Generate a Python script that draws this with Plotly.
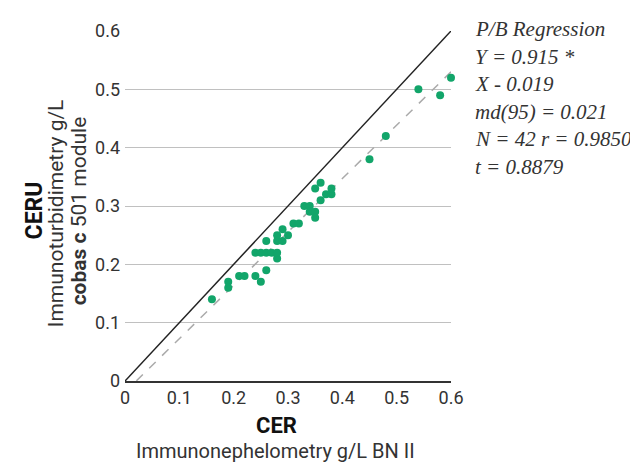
import plotly.graph_objects as go

cer = [0.16, 0.19, 0.19, 0.21, 0.22, 0.24, 0.25, 0.26, 0.28,
       0.24, 0.25, 0.26, 0.27, 0.28, 0.26, 0.28, 0.29, 0.28, 0.30,
       0.29, 0.31, 0.32, 0.33, 0.34, 0.34, 0.35, 0.35, 0.36, 0.37,
       0.38, 0.35, 0.38, 0.36, 0.45, 0.48, 0.54, 0.58, 0.60]
ceru = [0.14, 0.17, 0.16, 0.18, 0.18, 0.18, 0.17, 0.19, 0.21,
        0.22, 0.22, 0.22, 0.22, 0.22, 0.24, 0.24, 0.24, 0.25, 0.25,
        0.26, 0.27, 0.27, 0.30, 0.30, 0.29, 0.29, 0.28, 0.31, 0.32,
        0.32, 0.33, 0.33, 0.34, 0.38, 0.42, 0.50, 0.49, 0.52]

slope = 0.915
intercept = -0.019
reg_x = [0.021, 0.6]
identity = [0, 0.6]
ticks = [0, 0.1, 0.2, 0.3, 0.4, 0.5, 0.6]
tick_text = ["0", "0.1", "0.2", "0.3", "0.4", "0.5", "0.6"]
stats_lines = ["P/B Regression", "Y = 0.915 *", "X - 0.019", "md(95) = 0.021",
               "N = 42 r = 0.9850", "t = 0.8879"]

# page body has an 8px offset; plot area target: x 125..451, y 22..381 (page px)
L, T, W, H = 125, 22, 326, 359

def px(xp):
    return (xp - L) / W

def py(yp):
    return (T + H - yp) / H

fig = go.Figure()
fig.add_trace(go.Scatter(x=identity, y=identity, mode="lines",
                         line=dict(color="#222222", width=1.5), hoverinfo="skip"))
fig.add_trace(go.Scatter(x=reg_x, y=[slope * v + intercept for v in reg_x], mode="lines",
                         line=dict(color="#aaaaaa", width=1.5, dash="dash"), hoverinfo="skip"))
fig.add_trace(go.Scatter(x=cer, y=ceru, mode="markers", cliponaxis=False,
                         marker=dict(color="#12a56a", size=8)))

fig.update_layout(
    width=638, height=469,
    margin=dict(l=L - 8, r=638 - (L - 8) - W, t=T - 8, b=469 - (T - 8) - H),
    paper_bgcolor="white", plot_bgcolor="white",
    showlegend=False,
    font=dict(family="Roboto", size=18, color="#333333"),
    xaxis=dict(range=[0, 0.6], tickvals=ticks, ticktext=tick_text, showgrid=False,
               zeroline=False, showline=True, linecolor="#333333", linewidth=1.5,
               ticks="", ticklabelstandoff=0, tickfont=dict(size=18, color="#333333")),
    yaxis=dict(range=[0, 0.6], tickvals=ticks, ticktext=tick_text, showgrid=True,
               gridcolor="#c0c0c0", gridwidth=1, zeroline=False, showline=False,
               ticks="", ticklabelstandoff=4, tickfont=dict(size=18, color="#333333")),
)

for i, line in enumerate(stats_lines):
    fig.add_annotation(x=px(473), y=py(20 + i * 28.2), xref="paper", yref="paper",
                       xanchor="left", yanchor="middle", showarrow=False,
                       text="<i>" + line + "</i>",
                       font=dict(family="Liberation Serif", size=21, color="#333333"))

# x-axis titles
fig.add_annotation(x=px(276), y=py(427), xref="paper", yref="paper",
                   xanchor="center", yanchor="middle", showarrow=False,
                   text="<b>CER</b>", font=dict(family="Roboto", size=22, color="#111111"))
fig.add_annotation(x=px(275), y=py(453), xref="paper", yref="paper",
                   xanchor="center", yanchor="middle", showarrow=False,
                   text="Immunonephelometry g/L BN II", font=dict(family="Roboto", size=20, color="#333333"))

# y-axis titles
fig.add_annotation(x=px(34), y=py(206), xref="paper", yref="paper",
                   xanchor="center", yanchor="middle", showarrow=False, textangle=-90,
                   text="<b>CERU</b>", font=dict(family="Roboto", size=23, color="#111111"))
fig.add_annotation(x=px(56), y=py(209), xref="paper", yref="paper",
                   xanchor="center", yanchor="middle", showarrow=False, textangle=-90,
                   text="Immunoturbidimetry g/L", font=dict(family="Roboto", size=21, color="#333333"))
fig.add_annotation(x=px(79), y=py(207), xref="paper", yref="paper",
                   xanchor="center", yanchor="middle", showarrow=False, textangle=-90,
                   text="<b>cobas c</b> 501 module", font=dict(family="Roboto", size=21, color="#333333"))

fig.write_html("out.html")
